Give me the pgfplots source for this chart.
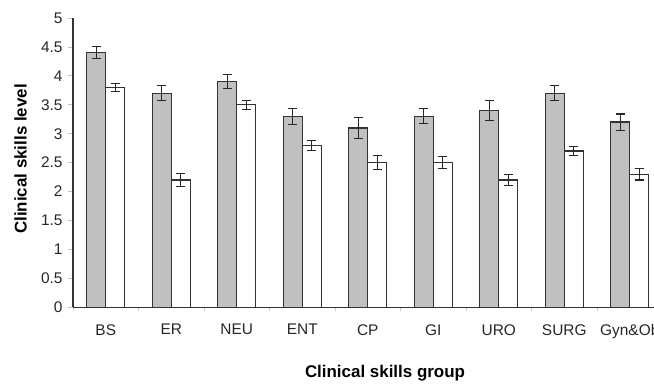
\documentclass[border=0pt]{standalone}
\usepackage{fontspec}
\setmainfont{Liberation Sans}
\usepackage{pgfplots}
\pgfplotsset{compat=1.18}
\usepackage{pgfplotstable}
\definecolor{barg}{HTML}{C0C0C0}
\definecolor{edge}{HTML}{333333}

\pgfplotstableread{
x y e
0 4.40 0.10
1 3.70 0.13
2 3.90 0.12
3 3.30 0.14
4 3.10 0.18
5 3.30 0.13
6 3.40 0.17
7 3.70 0.13
8 3.20 0.14
}\grp
\pgfplotstableread{
x y e
0 3.80 0.07
1 2.20 0.11
2 3.50 0.08
3 2.80 0.09
4 2.50 0.12
5 2.50 0.10
6 2.20 0.10
7 2.70 0.08
8 2.30 0.10
}\wht

\begin{document}
\begin{tikzpicture}[x=1bp,y=1bp]
\begin{axis}[name=ax, at={(0,0)}, anchor=south west,
  scale only axis, width=581bp, height=289.3bp,
  xmin=-0.5, xmax=8.37, ymin=0, ymax=5,
  ybar=0pt, bar width=19bp,
  axis x line*=bottom, axis y line*=left,
  axis line style={edge, line width=1.4bp, -},
  tick align=outside,
  xtick={0,...,8},
  xticklabels={BS,ER,NEU,ENT,CP,GI,URO,SURG,Gyn\&Ob},
  major x tick style={draw=none},
  minor xtick={-0.5,0.5,...,7.5},
  minor x tick style={gray!45, line width=0.8bp},
  minor tick length=4bp,
  ytick={0,0.5,...,5},
  y tick style={gray!45, line width=0.8bp},
  major tick length=5bp,
  /pgf/number format/assume math mode=true,
  tick label style={font=\fontsize{15.5}{17}\selectfont, text=black!85},
  xticklabel style={yshift=-8.5bp},
  yticklabel style={xshift=-2bp},
  xlabel={Clinical skills group},
  ylabel={Clinical skills level},
  xlabel style={at={(axis description cs:0.537,-0.229)}, anchor=center, font=\bfseries\fontsize{17}{20}\selectfont},
  ylabel style={at={(axis description cs:-0.0904,0.5126)}, anchor=center, font=\bfseries\fontsize{17}{20}\selectfont},
  clip=false,
]
\addplot[fill=barg, draw=edge, line width=1.3bp,
  error bars/.cd, y dir=both, y explicit,
  error bar style={black!85, line width=1.1bp},
  error mark options={rotate=90, mark size=4.7bp, black!85, line width=1.1bp}]
  table[x=x, y=y, y error=e]{\grp};
\addplot[fill=white, draw=edge, line width=1.3bp,
  error bars/.cd, y dir=both, y explicit,
  error bar style={black!85, line width=1.1bp},
  error mark options={rotate=90, mark size=4.7bp, black!85, line width=1.1bp}]
  table[x=x, y=y, y error=e]{\wht};
\end{axis}
\pgfresetboundingbox
\path[use as bounding box] (-73bp,-76.7bp) rectangle (581bp,307.3bp);
\end{tikzpicture}
\end{document}
